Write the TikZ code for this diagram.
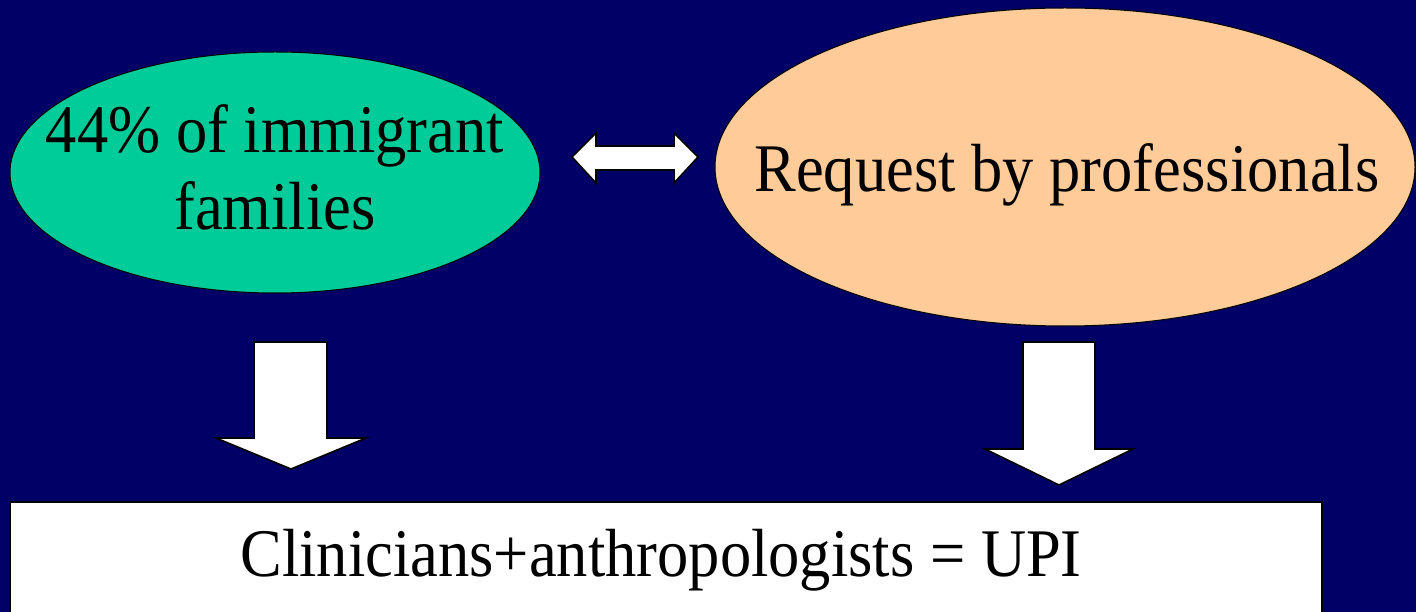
\documentclass[tikz,border=0pt]{standalone}
\usepackage{fontspec}
\setmainfont{Liberation Serif}
\usetikzlibrary{shapes.geometric}
\definecolor{navy}{HTML}{000066}
\definecolor{mint}{HTML}{00CC99}
\definecolor{peach}{HTML}{FFCC99}
\newcommand{\tallbox}[1]{\scalebox{1}[1.09]{#1}}
\tikzset{
  blob/.style={ellipse, draw=black, line width=1pt, inner sep=0pt},
  blocktip/.style={fill=white, draw=black, line width=1.6pt, line join=miter},
  lbl/.style={anchor=base, inner sep=0pt, font=\fontsize{62.5}{77}\selectfont, text=black},
  resultbox/.style={fill=white, draw=black, line width=1.2pt}
}
\begin{document}
\begin{tikzpicture}[x=1pt, y=-1pt]
  \useasboundingbox (0,0) rectangle (1416,612);
  \clip (0,0) rectangle (1416,612);
  \fill[navy] (0,0) rectangle (1416,612);
  % ellipses
  \node[blob, fill=mint, minimum width=530pt, minimum height=241pt] (imm) at (275,172.5) {};
  \node[blob, fill=peach, minimum width=700pt, minimum height=318pt] (req) at (1065,167) {};
  \node[lbl] (immA) at (275,153) {\tallbox{44\% of immigrant}};
  \node[lbl] (immB) at (275,230) {\tallbox{families}};
  \node[lbl] (reqT) at (1067,192) {\tallbox{Request by professionals}};
  % double arrow
  \draw[blocktip] (572,157) -- (596,133) -- (596,146) -- (674,146) -- (674,133) -- (698,157)
    -- (674,183) -- (674,170) -- (596,170) -- (596,183) -- cycle;
  % down arrows
  \draw[blocktip] (254,342) -- (327,342) -- (327,438) -- (366,438) -- (291,469) -- (216,438) -- (254,438) -- cycle;
  \draw[blocktip] (1023,342) -- (1095,342) -- (1095,449) -- (1133,449) -- (1059,485) -- (985,449) -- (1023,449) -- cycle;
  % result box
  \draw[resultbox] (10,502) rectangle (1322,630);
  \coordinate (upiC) at (661,576);
  \node[lbl] (upi) at (upiC) {\tallbox{Clinicians+anthropologists = UPI}};
\end{tikzpicture}
\end{document}
